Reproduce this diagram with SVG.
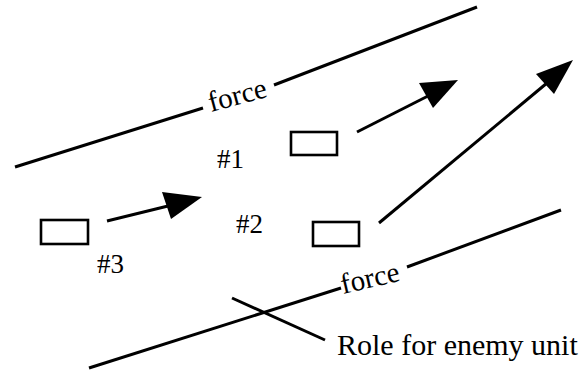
<svg xmlns="http://www.w3.org/2000/svg" width="584" height="373" viewBox="0 0 584 373">
<style>
.ln{stroke:#000;stroke-width:3;fill:none;stroke-linecap:butt}
.unit{fill:#fff;stroke:#000;stroke-width:2.6}
.head{fill:#000;stroke:none}
text{font-family:"Liberation Serif","Times New Roman",serif;fill:#000}
.lbl{font-size:27px}
.frc{font-size:29px}
.role{font-size:30px}
</style>
<g id="force-top">
<line class="ln" x1="15" y1="167" x2="203" y2="108"/>
<line class="ln" x1="274" y1="85" x2="477" y2="7"/>
<text class="frc" x="211" y="112" transform="rotate(-15 211 112)">force</text>
</g>
<g id="force-bottom">
<line class="ln" x1="89" y1="368" x2="341" y2="288"/>
<line class="ln" x1="407" y1="267" x2="561" y2="210"/>
<text class="frc" x="343" y="294" transform="rotate(-13 343 294)">force</text>
</g>
<g id="unit-1">
<rect class="unit" x="291" y="132" width="46" height="23"/>
<text class="lbl" x="217" y="168">#1</text>
</g>
<g id="unit-2">
<rect class="unit" x="313" y="222" width="46" height="24"/>
<text class="lbl" x="236" y="233">#2</text>
</g>
<g id="unit-3">
<rect class="unit" x="41" y="220" width="47" height="24"/>
<text class="lbl" x="97" y="273">#3</text>
</g>
<g id="enemy-role">
<line class="ln" x1="232" y1="298" x2="325" y2="340"/>
<text class="role" x="337" y="355">Role for enemy unit</text>
</g>
<g id="connectors">
<line class="ln" x1="357" y1="132" x2="428" y2="96"/>
<polygon class="head" points="458,80 419,83 433,108"/>
<line class="ln" x1="379" y1="223" x2="547" y2="83"/>
<polygon class="head" points="573,60 536,74 554,94"/>
<line class="ln" x1="107" y1="221" x2="168" y2="206"/>
<polygon class="head" points="202,197 162,192 171,219"/>
</g>
</svg>
